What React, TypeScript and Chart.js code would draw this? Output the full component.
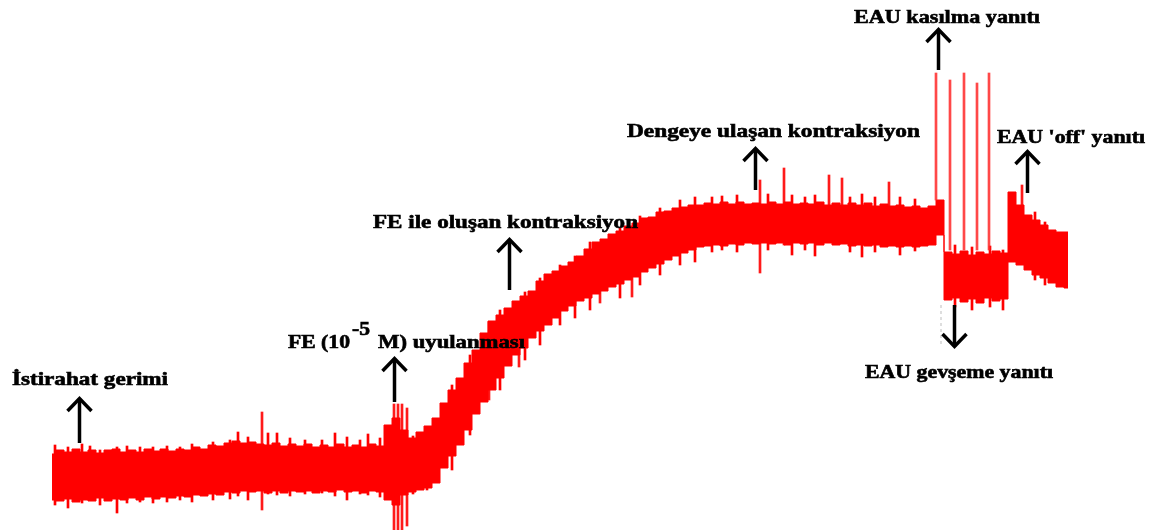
import React, { useEffect, useRef } from "react";
import { Chart, registerables } from "chart.js";

Chart.register(...registerables);

// time (s) of each envelope sample
const timeS = [
  0, 8, 16, 24, 32, 40, 48, 56, 64, 72, 80, 88, 96, 104, 112, 120, 128, 136, 144, 152,
  160, 168, 176, 184, 192, 200, 208, 216, 224, 232, 240, 248, 256, 264, 272, 280, 288, 296, 304, 312,
  320, 328, 336, 344, 352, 360, 368, 376, 384, 392, 400, 408, 416, 424, 432, 440, 448, 456, 464, 472,
  480, 488, 496, 504, 512, 520, 528, 536, 544, 552, 560, 568, 576, 584, 592, 600, 608, 616, 624, 632,
  640, 648, 656, 664, 672, 680, 688, 696, 704, 712, 720, 728, 736, 744, 752, 760, 768, 776, 784, 792,
  800, 808, 816, 824, 832, 840, 848, 856, 864, 872, 880, 888, 896, 904, 912, 920, 928, 936, 944, 952,
  960, 968, 976, 984, 992, 1000, 1008, 1016,
];

// upper edge of the recorded tension trace (core band)
const tensionUpper = [
  7.6, 8.0, 7.8, 8.1, 7.8, 8.0, 7.7, 8.0, 8.1, 7.8,
  8.0, 7.8, 8.1, 7.9, 8.1, 7.9, 8.1, 8.0, 8.3, 8.1,
  8.5, 8.4, 8.7, 8.9, 8.7, 8.8, 8.6, 8.5, 8.7, 8.4,
  8.6, 8.4, 8.6, 8.3, 8.5, 8.3, 8.6, 8.3, 8.5, 8.3,
  8.6, 8.4, 10.5, 11.2, 10.0, 9.2, 9.8, 10.4, 11.2,
  12.7, 14.0, 15.2, 16.7, 18.0, 19.7, 20.9, 21.5, 22.2, 22.9,
  23.4, 23.9, 24.9, 25.6, 25.9, 26.4, 26.8, 27.4, 28.1, 28.8,
  29.1, 29.6, 29.9, 30.4, 30.7, 31.2, 31.3, 31.8, 31.9, 32.2,
  32.3, 32.5,
  32.5, 32.7, 32.6, 32.8, 32.6, 32.8, 32.6, 32.7, 32.6, 32.8,
  32.6, 32.8, 32.6, 32.7, 32.6, 32.8, 32.5, 32.7, 32.5, 32.7,
  32.5, 32.7, 32.4, 32.6, 32.4, 32.5, 32.3, 32.4, 32.2, 32.4,
  33.0,
  27.8, 27.6, 27.9, 27.5, 27.8, 27.6, 27.9, 27.7,
  33.8, 32.5, 31.5, 31.0, 30.5, 30.0, 29.8, 29.8,
];

// lower edge of the recorded tension trace (core band)
const tensionLower = [
  3.0, 2.9, 3.1, 2.8, 3.0, 2.9, 3.2, 2.9, 3.1, 3.0,
  3.2, 3.0, 3.3, 3.1, 3.3, 3.2, 3.4, 3.3, 3.5, 3.4,
  3.6, 3.5, 3.8, 3.7, 3.9, 3.8, 3.9, 3.7, 3.9, 3.7,
  3.9, 3.8, 3.9, 3.7, 3.9, 3.8, 4.0, 3.8, 3.9, 3.7,
  3.9, 3.8, 3.0, 2.5, 3.5, 3.8, 4.0, 4.2, 4.7,
  6.2, 7.4, 8.5, 10.0, 11.6, 12.8, 14.0, 15.2, 16.4, 17.5,
  18.2, 19.2, 19.9, 20.5, 21.2, 21.9, 22.4, 22.9, 23.2, 23.6,
  23.9, 24.3, 24.6, 25.0, 25.3, 25.8, 26.2, 26.6, 27.0, 27.4,
  27.7, 28.0,
  28.3, 28.4, 28.5, 28.4, 28.6, 28.5, 28.7, 28.6, 28.7, 28.6,
  28.7, 28.5, 28.7, 28.6, 28.7, 28.5, 28.7, 28.5, 28.6, 28.4,
  28.5, 28.4, 28.5, 28.3, 28.4, 28.3, 28.4, 28.3, 28.4, 28.5,
  29.5,
  23.0, 23.2, 22.8, 23.1, 22.7, 23.2, 22.9, 23.1,
  26.8, 26.5, 26.0, 25.5, 25.2, 24.7, 24.3, 24.2,
];

// fine noise hairs crossing the band: time, low, high
const hairTime = [
  3, 16, 30, 38, 48, 65, 75, 88, 101, 115, 128, 140, 161, 178, 186, 196, 216, 225, 238, 253,
  270, 283, 295, 308, 316, 328, 361, 375,
  400, 418, 448, 473, 488, 508, 523, 538, 568, 588, 608, 628, 643,
  660, 670, 685, 716, 740, 753, 763, 798, 810, 823, 848, 863,
  903, 920, 938, 951, 983, 993,
];
const hairLow = [
  2.5, 2.2, 2.7, 3.0, 2.5, 1.7, 2.7, 2.8, 2.7, 2.8, 3.0, 2.8, 3.0, 3.1, 3.4, 3.0, 3.6, 3.5, 3.4, 3.6,
  3.7, 3.4, 3.0, 3.6, 3.5, 3.3, 3.6, 4.0,
  6.0, 9.5, 14.0, 17.0, 18.5, 20.5, 21.2, 22.0, 23.2, 24.5, 25.5, 26.5, 26.8,
  27.8, 28.0, 27.8, 28.0, 27.5, 28.0, 27.4, 27.8, 27.3, 27.8, 27.5, 27.9,
  22.3, 22.0, 22.3, 22.0, 25.0, 24.5,
];
const hairHigh = [
  8.5, 8.3, 8.6, 8.4, 8.0, 8.3, 8.4, 8.3, 8.3, 8.4, 8.3, 8.6, 8.8, 9.0, 9.8, 9.3, 9.7, 9.7, 9.2, 9.0,
  9.0, 9.7, 9.3, 9.0, 9.6, 9.2, 9.4, 9.8,
  14.5, 17.5, 22.0, 23.8, 25.2, 26.5, 27.4, 28.8, 30.2, 31.4, 32.2, 33.0, 33.3,
  33.3, 33.4, 33.5, 33.6, 33.5, 33.3, 33.5, 33.3, 33.6, 33.3, 33.3, 33.1,
  28.5, 28.3, 28.4, 28.0, 31.8, 30.8,
];

// isolated noise spikes in the trace
const spikeTime = [208, 340, 344, 348, 353, 435, 465, 546, 578, 706, 730, 775, 788, 835, 968];
const spikeLow = [2.0, 0.0, 0.0, 0.0, 0.4, 13.0, 16.3, 22.7, 23.3, 25.7, 28.5, 29.0, 29.0, 28.5, 26.8];
const spikeHigh = [11.8, 12.6, 12.6, 12.6, 12.2, 20.8, 22.0, 28.0, 29.0, 35.0, 36.2, 35.5, 35.2, 34.8, 34.5];

// EAU contraction spikes
const eauTime = [886, 900, 914, 927, 939];
const eauBase = [33.0, 28.0, 28.0, 28.0, 28.0];
const eauPeak = [45.7, 45.0, 45.7, 44.7, 45.7];

// stimulus marker (dashed)
const markerTime = [889, 889];
const markerTension = [22.5, 18.3];

// annotation arrows: time, tip tension, tail tension
const arrowTime = [27, 342, 457, 703, 886, 975, 902];
const arrowTip = [13.3, 17.3, 29.2, 38.3, 50.2, 38.0, 18.2];
const arrowTail = [8.7, 12.8, 24.0, 34.0, 46.0, 33.7, 22.5];

// annotation labels
const labelText = [
  "İstirahat gerimi",
  "FE (10",
  "-5",
  "M) uyulanması",
  "FE ile oluşan kontraksiyon",
  "Dengeye ulaşan kontraksiyon",
  "EAU kasılma yanıtı",
  "EAU 'off' yanıtı",
  "EAU gevşeme yanıtı",
];
const labelTime = [-40, 236, 300, 326, 321, 575, 802, 945, 813];
const labelTension = [14.5, 18.2, 19.5, 18.2, 30.2, 39.3, 50.7, 38.7, 15.2];
const labelWidth = [156, 62, 18, 147, 265, 293, 186, 148, 188];
const labelSize = [18, 18, 18, 18, 18, 18, 18, 18, 18];

const FONT = '"Liberation Serif", "Times New Roman", serif';

const notesPlugin = {
  id: "traceNotes",
  afterDatasetsDraw(chart: any) {
    const { ctx } = chart;
    const xs = chart.scales.x;
    const ys = chart.scales.y;
    ctx.save();
    ctx.strokeStyle = "#000";
    ctx.fillStyle = "#000";
    ctx.lineWidth = 3.5;
    ctx.lineCap = "butt";
    ctx.lineJoin = "miter";
    for (let i = 0; i < arrowTime.length; i++) {
      const px = Math.round(xs.getPixelForValue(arrowTime[i])) + 0.5;
      const tip = ys.getPixelForValue(arrowTip[i]);
      const tail = ys.getPixelForValue(arrowTail[i]);
      const dir = tail > tip ? 1 : -1;
      ctx.beginPath();
      ctx.moveTo(px, tail);
      ctx.lineTo(px, tip + dir * 1.5);
      ctx.stroke();
      ctx.beginPath();
      ctx.moveTo(px - 12, tip + dir * 14);
      ctx.lineTo(px, tip + dir * 1.5);
      ctx.lineTo(px + 12, tip + dir * 14);
      ctx.stroke();
    }
    ctx.textBaseline = "alphabetic";
    ctx.textAlign = "left";
    ctx.lineWidth = 0.6;
    for (let i = 0; i < labelText.length; i++) {
      ctx.font = `bold ${labelSize[i]}px ${FONT}`;
      const w = ctx.measureText(labelText[i]).width;
      const sx = labelWidth[i] / w;
      ctx.save();
      ctx.translate(xs.getPixelForValue(labelTime[i]), ys.getPixelForValue(labelTension[i]));
      ctx.scale(sx, 1);
      ctx.fillText(labelText[i], 0, 0);
      ctx.strokeText(labelText[i], 0, 0);
      ctx.restore();
    }
    ctx.restore();
  },
};

export default function App() {
  const ref = useRef<HTMLCanvasElement | null>(null);
  useEffect(() => {
    if (!ref.current) return;
    const upper = timeS.map((t, i) => ({ x: t, y: tensionUpper[i] }));
    const lower = timeS.map((t, i) => ({ x: t, y: tensionLower[i] }));
    const hairs = hairTime.map((t, i) => ({ x: t, y: [hairLow[i], hairHigh[i]] }));
    const spikes = spikeTime.map((t, i) => ({ x: t, y: [spikeLow[i], spikeHigh[i]] }));
    const eau = eauTime.map((t, i) => ({ x: t, y: [eauBase[i], eauPeak[i]] }));
    const marker = markerTime.map((t, i) => ({ x: t, y: markerTension[i] }));
    const chart = new Chart(ref.current, {
      type: "line",
      data: {
        datasets: [
          {
            type: "line",
            label: "upper",
            data: upper,
            borderColor: "#ff0000",
            backgroundColor: "#ff0000",
            borderWidth: 1,
            pointRadius: 0,
            stepped: "middle",
            fill: "+1",
            order: 2,
          },
          {
            type: "line",
            label: "lower",
            data: lower,
            borderColor: "#ff0000",
            backgroundColor: "#ff0000",
            borderWidth: 1,
            pointRadius: 0,
            stepped: "middle",
            fill: false,
            order: 2,
          },
          {
            type: "bar",
            label: "hairs",
            data: hairs as any,
            backgroundColor: "#ff0000",
            barThickness: 2,
            order: 3,
          },
          {
            type: "bar",
            label: "spikes",
            data: spikes as any,
            backgroundColor: "#ff1a1a",
            barThickness: 2,
            order: 3,
          },
          {
            type: "bar",
            label: "eau",
            data: eau as any,
            backgroundColor: "rgba(255,40,40,0.85)",
            barThickness: 2,
            order: 1,
          },
          {
            type: "line",
            label: "marker",
            data: marker,
            borderColor: "#bdbdbd",
            borderWidth: 1,
            borderDash: [3, 3],
            pointRadius: 0,
            fill: false,
            order: 4,
          },
        ] as any,
      },
      options: {
        animation: false,
        responsive: false,
        maintainAspectRatio: false,
        layout: { padding: 0 },
        plugins: { legend: { display: false }, tooltip: { enabled: false } },
        scales: {
          x: { type: "linear", min: -52, max: 1107, display: false, offset: false },
          y: { type: "linear", min: 0, max: 53, display: false },
        },
      },
      plugins: [notesPlugin],
    } as any);
    return () => chart.destroy();
  }, []);
  return (
    <div style={{ position: "fixed", left: 0, top: 0, width: 1159, height: 530, background: "#fff" }}>
      <canvas ref={ref} width={1159} height={530} style={{ width: 1159, height: 530 }} />
    </div>
  );
}
